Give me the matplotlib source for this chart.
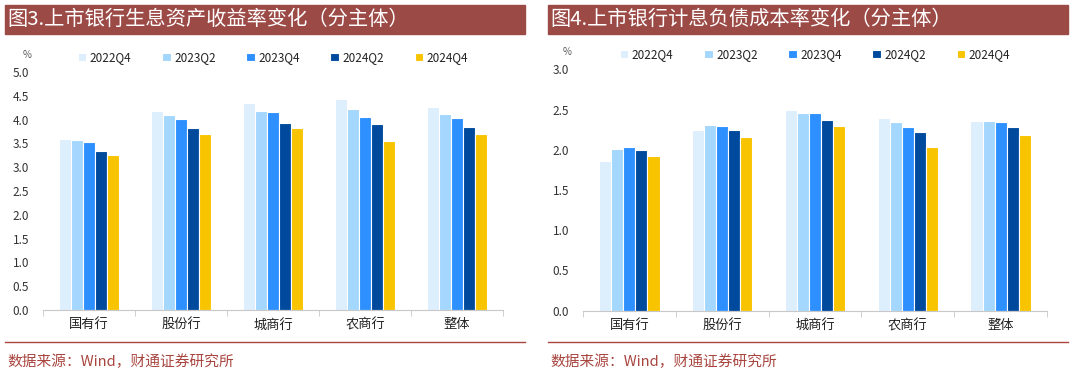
import matplotlib
matplotlib.use("Agg")
import matplotlib.pyplot as plt
import matplotlib.patches as mpatches
import matplotlib.lines as mlines
import numpy as np

plt.rcParams["font.family"] = ["Noto Sans CJK SC", "DejaVu Sans"]
plt.rcParams["axes.unicode_minus"] = False

# 数据
categories = ["国有行", "股份行", "城商行", "农商行", "整体"]
periods = ["2022Q4", "2023Q2", "2023Q4", "2024Q2", "2024Q4"]
colors = ["#DDEEFD", "#A3D7FD", "#2E90FF", "#004A9E", "#F8C400"]

# 生息资产收益率 (%)
yield_2022q4 = [3.60, 4.19, 4.34, 4.44, 4.26]
yield_2023q2 = [3.58, 4.10, 4.19, 4.22, 4.12]
yield_2023q4 = [3.52, 4.01, 4.15, 4.05, 4.03]
yield_2024q2 = [3.35, 3.82, 3.93, 3.91, 3.84]
yield_2024q4 = [3.26, 3.69, 3.82, 3.56, 3.69]

# 计息负债成本率 (%)
cost_2022q4 = [1.86, 2.25, 2.49, 2.40, 2.36]
cost_2023q2 = [2.01, 2.31, 2.46, 2.35, 2.36]
cost_2023q4 = [2.03, 2.30, 2.46, 2.28, 2.35]
cost_2024q2 = [2.00, 2.25, 2.37, 2.22, 2.28]
cost_2024q4 = [1.92, 2.16, 2.30, 2.03, 2.18]

W, H = 1080, 379
BANNER = "#9C4A46"
RED = "#A8453F"


def px(x, y):
    return x / W, 1 - y / H


def draw_panel(fig, rect, series, ymax, yticks, title, bx0, bx1):
    ax = fig.add_axes(rect)
    x = np.arange(len(categories))
    bw = 0.13
    for i, (vals, c, lab) in enumerate(zip(series, colors, periods)):
        ax.bar(x + (i - 2) * bw, vals, bw, color=c, edgecolor="white",
               linewidth=0.8, label=lab, zorder=2)
    ax.set_xlim(-0.5, len(categories) - 0.5)
    ax.set_ylim(0, ymax)
    ax.set_yticks(yticks)
    ax.set_yticklabels([f"{t:.1f}" for t in yticks])
    ax.set_xticks(x)
    ax.set_xticklabels(categories, fontsize=9.5, color="#222222")
    ax.set_xticks(np.arange(-0.5, len(categories)), minor=True)
    ax.tick_params(axis="x", which="major", length=0, pad=6)
    ax.tick_params(axis="x", which="minor", length=4, color="#C8C8C8")
    ax.tick_params(axis="y", length=0, labelsize=8.5, labelcolor="#333333", pad=10)
    for s in ["top", "right", "left"]:
        ax.spines[s].set_visible(False)
    ax.spines["bottom"].set_color("#C8C8C8")
    ax.text(-0.035, 1.07, "%", transform=ax.transAxes, fontsize=7,
            color="#555555", ha="center", va="center")
    ax.legend(ncol=5, loc="center", bbox_to_anchor=(0.5, 1.06), frameon=False,
              fontsize=8.5, handlelength=0.7, handleheight=0.7,
              handletextpad=0.3, columnspacing=2.6, labelcolor="#222222")

    # 标题横幅
    x0, y0 = px(bx0, 34)
    fig.add_artist(mpatches.Rectangle((x0, y0), (bx1 - bx0) / W, 29 / H,
                                      transform=fig.transFigure, color=BANNER))
    tx, ty = px(bx0 + 2, 19)
    fig.text(tx, ty, title, color="white", fontsize=14.6, va="center", ha="left")

    # 底线与来源
    ly = 1 - 342 / H
    fig.add_artist(mlines.Line2D([bx0 / W, bx1 / W], [ly, ly],
                                 transform=fig.transFigure, color=RED, lw=1))
    sx, sy = px(bx0 + 2, 362)
    fig.text(sx, sy, "数据来源：Wind，财通证券研究所", color=RED,
             fontsize=10.6, va="center", ha="left")
    return ax


fig = plt.figure(figsize=(W / 100, H / 100), dpi=100)
fig.patch.set_facecolor("white")

left_rect = [43 / W, (H - 310) / H, 460 / W, 238 / H]
right_rect = [583 / W, (H - 310.6) / H, 464 / W, 241.3 / H]

draw_panel(fig, left_rect,
           [yield_2022q4, yield_2023q2, yield_2023q4, yield_2024q2, yield_2024q4],
           5.0, np.arange(0, 5.01, 0.5),
           "图3.上市银行生息资产收益率变化（分主体）", 5, 525)
draw_panel(fig, right_rect,
           [cost_2022q4, cost_2023q2, cost_2023q4, cost_2024q2, cost_2024q4],
           3.0, np.arange(0, 3.01, 0.5),
           "图4.上市银行计息负债成本率变化（分主体）", 548, 1068)

plt.savefig("out.png", dpi=100, facecolor=fig.get_facecolor())
plt.close(fig)
